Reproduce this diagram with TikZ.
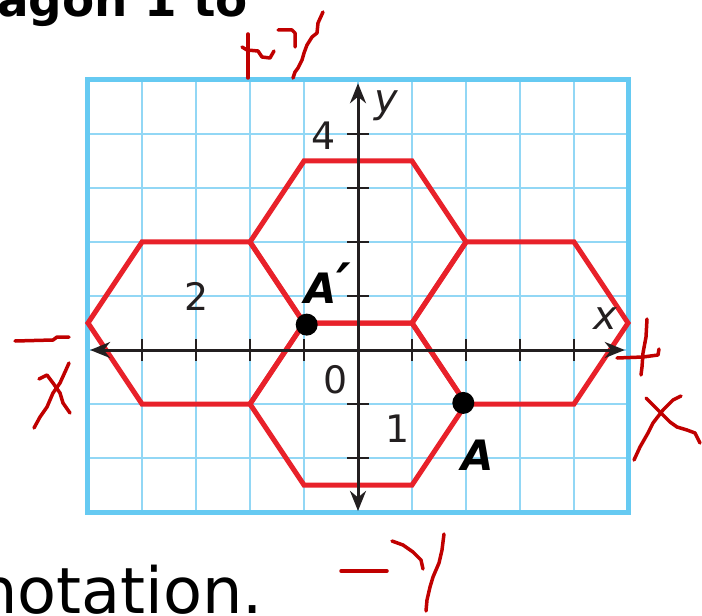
\documentclass[tikz,border=0pt]{standalone}
\usepackage{fontspec}
\setmainfont{DejaVu Sans}
\usetikzlibrary{arrows.meta}
\definecolor{gridblue}{HTML}{92D7F5}
\definecolor{borderblue}{HTML}{66CAF2}
\definecolor{hexred}{HTML}{E8212A}
\definecolor{axisgray}{HTML}{231F20}
\definecolor{inkred}{HTML}{C00000}
\tikzset{
  gridline/.style={draw=gridblue, line width=1.8bp},
  frameline/.style={draw=borderblue, line width=5bp},
  hexline/.style={draw=hexred, line width=5bp, line join=miter},
  axisline/.style={draw=axisgray, line width=3bp, {Stealth[length=20bp,width=16bp]}-{Stealth[length=20bp,width=16bp]}},
  tickmark/.style={draw=axisgray, line width=2.2bp},
  numlabel/.style={font=\fontsize{38}{40}\selectfont, text=axisgray, inner sep=0pt},
  varlabel/.style={font=\fontsize{40}{42}\selectfont\itshape, text=axisgray, inner sep=0pt},
  ptlabel/.style={font=\fontsize{42}{44}\selectfont\bfseries\itshape, text=black, inner sep=0pt},
  ptdot/.style={circle, fill=black, minimum size=22bp, inner sep=0pt},
  ink/.style={draw=inkred, line width=3.5bp, line cap=round, line join=round},
  pagetext/.style={inner sep=0pt, text=black}
}
\begin{document}
\begin{tikzpicture}[x=1bp, y=-1bp]
\useasboundingbox (0,0) rectangle (702,616);
% page text
\node[pagetext, anchor=base west, font=\fontsize{47}{50}\selectfont\bfseries] (title) at (-3,17) {agon 1 to};
\node[pagetext, anchor=base west, font=\fontsize{64}{70}\selectfont] (tail) at (-23,613) {notation.};
% graph
\begin{scope}[shift={(358,350)}, x=54bp, y=54bp]
  \foreach \i in {-4,...,4} \draw[gridline] (\i,-3) -- (\i,5);
  \foreach \j in {-2,...,4} \draw[gridline] (-5,\j) -- (5,\j);
  \draw[frameline] (-5,-3) rectangle (5,5);
  % hexagons
  \draw[hexline] (-1,3.5) -- (1,3.5) -- (2,2) -- (1,0.5) -- (-1,0.5) -- (-2,2) -- cycle;
  \draw[hexline] (-1,0.5) -- (1,0.5) -- (2,-1) -- (1,-2.5) -- (-1,-2.5) -- (-2,-1) -- cycle;
  \draw[hexline] (-4,2) -- (-2,2) -- (-1,0.5) -- (-2,-1) -- (-4,-1) -- (-5,0.5) -- cycle;
  \draw[hexline] (2,2) -- (4,2) -- (5,0.5) -- (4,-1) -- (2,-1) -- (1,0.5) -- cycle;
  % axes
  \coordinate (xl) at (-4.96,0);
  \coordinate (xr) at (4.94,0);
  \coordinate (yt) at (0,4.94);
  \coordinate (yb) at (0,-2.98);
  \draw[axisline] (xl) -- (xr);
  \draw[axisline] (yb) -- (yt);
  \foreach \i in {-4,-3,-2,-1,1,2,3,4} \draw[tickmark] (\i,-0.2) -- (\i,0.2);
  \foreach \j in {-2,-1,1,2,3,4} \draw[tickmark] (-0.2,\j) -- (0.2,\j);
  % points
  \node[ptdot] (Ap) at (-0.95,0.47) {};
  \node[ptdot] (A) at (1.95,-0.98) {};
\end{scope}
% labels
\node[numlabel] (four) at (324,136) {4};
\node[numlabel] (two) at (197,296) {2};
\node[numlabel] (one) at (398,429) {1};
\node[numlabel] (zero) at (336,380) {0};
\node[varlabel] (xlab) at (605,319) {x};
\node[varlabel] (ylab) at (386,106) {y};
\node[ptlabel] (Aplab) at (328,283) {A{\fontsize{56}{56}\selectfont ′}};
\node[ptlabel] (Alab) at (478,455) {A};
% handwritten marks
\draw[ink] (248,34) -- (248,78);
\draw[ink] (242,47) -- (247,50) -- (258,51) -- (262,57) -- (270,58) -- (274,51);
\draw[ink] (278,30) -- (292,30) -- (295,33) -- (295,47);
\draw[ink] (323,12) -- (318,23) -- (317,33) -- (312,37) -- (307,45) -- (304,53) -- (302,60) -- (298,68) -- (295,72) -- (293,78);
\draw[ink] (15,341) -- (53,340) -- (57,337) -- (69,337);
\draw[ink] (39,379) -- (47,375) -- (53,383) -- (60,393) -- (63,403) -- (70,413);
\draw[ink] (69,363) -- (65,372) -- (60,383) -- (53,393) -- (47,407) -- (40,417) -- (34,428);
\draw[ink] (617,358) -- (643,357) -- (658,355) -- (659,349);
\draw[ink] (647,319) -- (646,337) -- (643,353) -- (642,367) -- (641,375);
\draw[ink] (646,398) -- (660,412) -- (670,422) -- (677,427) -- (687,430) -- (695,433) -- (700,443);
\draw[ink] (681,396) -- (673,400) -- (663,410) -- (653,423) -- (648,433) -- (640,447) -- (634,460);
\draw[ink] (341,571) -- (387,571);
\draw[ink] (392,541) -- (403,545) -- (413,552) -- (421,560) -- (423,569);
\draw[ink] (444,534) -- (442,550) -- (439,563) -- (433,577) -- (430,587) -- (427,600) -- (426,611);
\end{tikzpicture}
\end{document}
